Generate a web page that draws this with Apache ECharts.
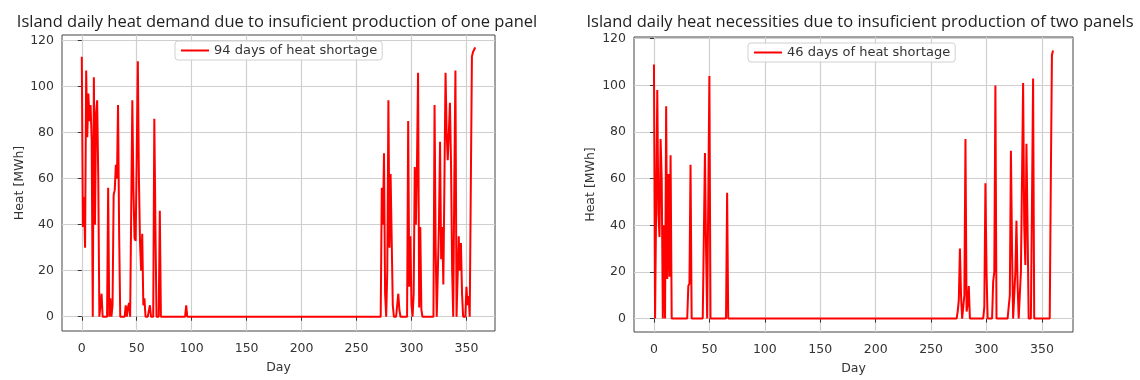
<!DOCTYPE html>
<html>
<head>
<meta charset="utf-8">
<script src="https://cdn.jsdelivr.net/npm/echarts@6/dist/echarts.min.js"></script>
<style>
  html, body { margin: 0; padding: 0; background: #fff; }
  #chart { width: 1140px; height: 380px; }
</style>
</head>
<body>
<div id="chart"></div>
<script>
// days with heat shortage (all other days are 0)
const oneDays = [0, 1, 2, 3, 4, 5, 6, 7, 8, 9, 11, 12, 13, 14, 15, 18, 24, 26, 28, 29, 30, 31, 32, 33, 34,
    40, 42, 43, 46, 47, 48, 49, 50, 51, 52, 53, 54, 55, 56, 57, 62, 66, 67, 71, 95,
    273, 274, 275, 276, 278, 279, 280, 281, 282, 283, 288, 289, 297, 298, 299, 300, 302, 303, 304, 305,
    306, 307, 308, 309, 321, 322, 325, 326, 327, 328, 329, 330, 331, 332, 333, 334, 335, 336, 337,
    339, 340, 343, 344, 345, 346, 350, 351, 352, 354, 355, 356, 357, 358];
const oneHeat = [113, 39, 52, 30, 107, 78, 97, 85, 92, 77, 104, 40, 88, 94, 60, 10, 56, 8, 5, 53, 55, 66, 60, 92, 36,
    5, 4, 6, 94, 55, 34, 33, 70, 111, 60, 32, 20, 36, 5, 8, 5, 86, 40, 46, 5,
    56, 40, 71, 10, 20, 94, 30, 62, 62, 5, 10, 3, 85, 13, 35, 5, 10, 65, 40, 66,
    106, 4, 39, 3, 92, 30, 40, 76, 25, 39, 14, 60, 106, 80, 68, 80, 93, 66, 20,
    60, 107, 35, 20, 32, 10, 13, 5, 9, 57, 113, 115, 116, 117];
const oneLastDay = 358;

const twoDays = [0, 3, 4, 5, 6, 7, 9, 11, 12, 13, 14, 15, 31, 32, 33, 46, 47, 50, 66,
    274, 275, 276, 277, 280, 281, 282, 283, 284, 298, 299, 300, 306, 307, 308,
    321, 322, 323, 326, 327, 328, 331, 332, 333, 334, 335, 336, 337, 341, 342, 358, 359, 360];
const twoHeat = [109, 98, 45, 35, 77, 60, 40, 91, 17, 62, 18, 70, 14, 15, 66, 71, 30, 104, 54,
    3, 8, 30, 10, 10, 77, 3, 6, 14, 5, 58, 20, 16, 20, 100,
    10, 72, 30, 20, 42, 15, 20, 60, 101, 40, 23, 75, 40, 50, 103, 60, 113, 115];
const twoLastDay = 360;

const dayTicks = [0, 50, 100, 150, 200, 250, 300, 350];
const heatTicks = [0, 20, 40, 60, 80, 100, 120];

const titles = [
    'Island daily heat demand due to insuficient production of one panel',
    'Island daily heat necessities due to insuficient production of two panels'
];
const names = ['94 days of heat shortage', '46 days of heat shortage'];

function fullYear(days, heat, last) {
    const out = [];
    for (let d = 0; d <= last; d++) out.push([d, 0]);
    days.forEach((d, i) => { out[d][1] = heat[i]; });
    return out;
}

const font = 'DejaVu Sans';

function xAxisFor(idx, max) {
    return {
        type: 'value', gridIndex: idx, min: -18, max: max, splitNumber: 8,
        name: 'Day', nameLocation: 'middle', nameGap: 30,
        nameTextStyle: { fontFamily: font, fontSize: 12.5, color: '#333' },
        axisLine: { show: false },
        axisTick: { show: true, length: 4, customValues: dayTicks, lineStyle: { color: '#333' } },
        axisLabel: { customValues: dayTicks, fontFamily: font, fontSize: 12.5, color: '#333', margin: 11 },
        splitLine: { show: true, lineStyle: { color: '#cfcfcf', width: 1.2 } }
    };
}

function yAxisFor(idx, min, max, gap) {
    return {
        type: 'value', gridIndex: idx, min: min, max: max, splitNumber: 6,
        name: 'Heat [MWh]', nameLocation: 'middle', nameGap: gap,
        nameTextStyle: { fontFamily: font, fontSize: 12.5, color: '#333' },
        axisLine: { show: false },
        axisTick: { show: true, length: 4, customValues: heatTicks, lineStyle: { color: '#333' } },
        axisLabel: { customValues: heatTicks, fontFamily: font, fontSize: 12.5, color: '#333', margin: 8 },
        splitLine: { show: true, lineStyle: { color: '#cfcfcf', width: 1.2 } }
    };
}

function legendFor(name, left, top) {
    return {
        data: [name], left: left, top: top, itemWidth: 28, itemHeight: 14, padding: [3, 5],
        itemStyle: { opacity: 0 },
        lineStyle: { width: 2 },
        borderColor: '#d0d0d0', borderWidth: 1, borderRadius: 3, backgroundColor: 'rgba(255,255,255,0.85)',
        textStyle: { fontFamily: font, fontSize: 13, color: '#333' }
    };
}

const chart = echarts.init(document.getElementById('chart'), null, { renderer: 'canvas' });

const titleStyle = { fontFamily: 'Open Sans', fontSize: 16.5, fontWeight: 'normal', color: '#222' };

const option = {
    animation: false,
    backgroundColor: '#fff',
    title: [
        { text: titles[0], left: 272, top: 9, textAlign: 'center', textStyle: titleStyle },
        { text: titles[1], left: 855, top: 9, textAlign: 'center', textStyle: titleStyle }
    ],
    legend: [legendFor(names[0], 175, 41), legendFor(names[1], 748, 43)],
    grid: [
        { left: 62, top: 35, width: 433, height: 296, show: true, borderColor: '#444', borderWidth: 1, backgroundColor: 'transparent' },
        { left: 634, top: 37, width: 439, height: 301, show: true, borderColor: '#444', borderWidth: 1, backgroundColor: 'transparent' }
    ],
    xAxis: [xAxisFor(0, 376), xAxisFor(1, 378)],
    yAxis: [yAxisFor(0, -6.2, 122.4, 36), yAxisFor(1, -5.75, 120.75, 37)],
    series: [
        { name: names[0], type: 'line', xAxisIndex: 0, yAxisIndex: 0, symbol: 'none',
          data: fullYear(oneDays, oneHeat, oneLastDay),
          itemStyle: { color: '#ff0000' }, lineStyle: { color: '#ff0000', width: 2 } },
        { name: names[1], type: 'line', xAxisIndex: 1, yAxisIndex: 1, symbol: 'none',
          data: fullYear(twoDays, twoHeat, twoLastDay),
          itemStyle: { color: '#ff0000' }, lineStyle: { color: '#ff0000', width: 2 } }
    ]
};

chart.setOption(option);
</script>
</body>
</html>
